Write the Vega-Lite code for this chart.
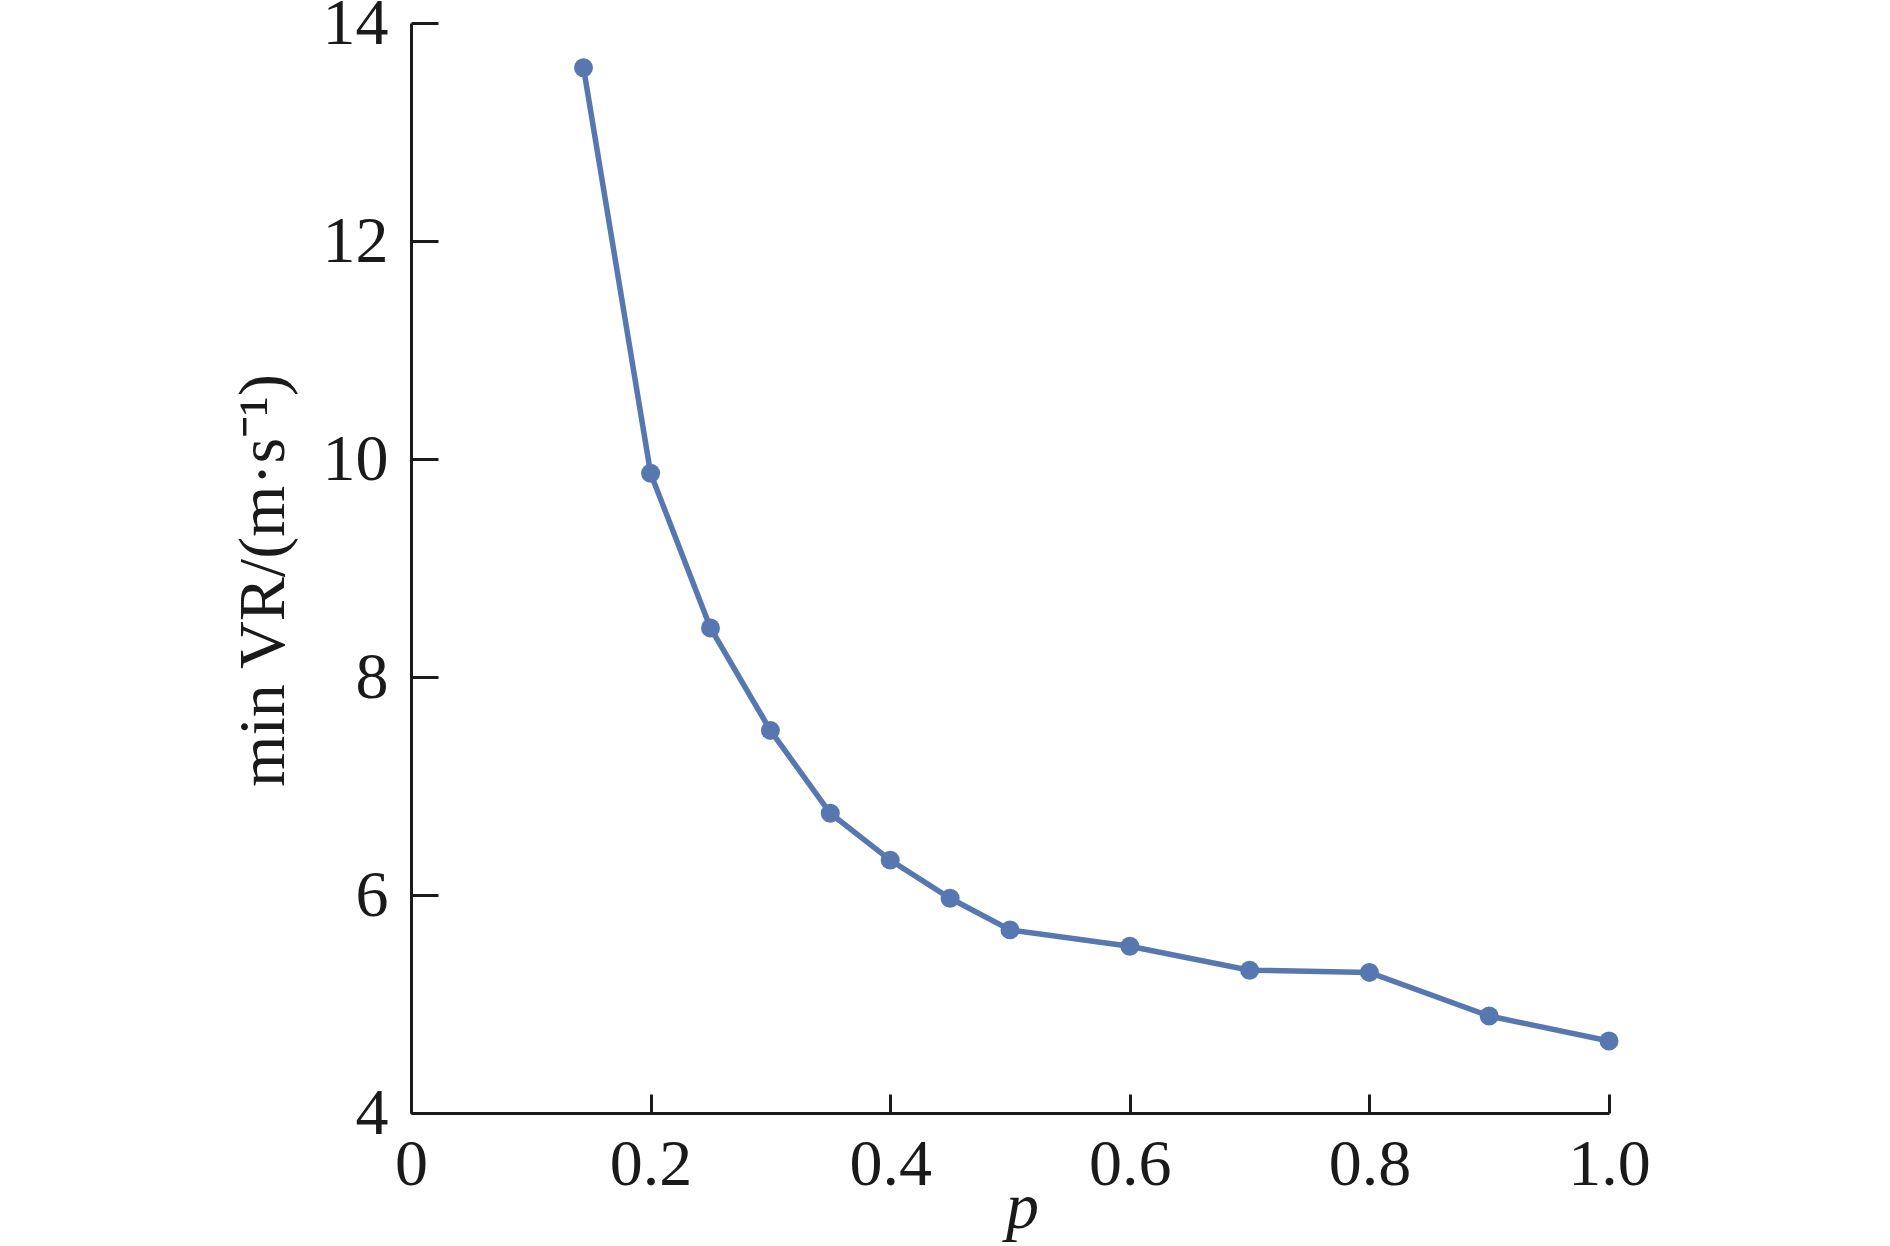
{
  "$schema": "https://vega.github.io/schema/vega-lite/v6.json",
  "autosize": {"type": "none"},
  "width": 1198,
  "height": 1090,
  "padding": {"left": 411, "top": 23, "right": 281, "bottom": 133},
  "background": "white",
  "config": {
    "view": {"stroke": null},
    "font": "Times New Roman, Liberation Serif, serif"
  },
  "data": {
    "values": [
      {"p": 0.144, "v": 13.59},
      {"p": 0.2, "v": 9.87},
      {"p": 0.25, "v": 8.45},
      {"p": 0.3, "v": 7.51},
      {"p": 0.35, "v": 6.75},
      {"p": 0.4, "v": 6.32},
      {"p": 0.45, "v": 5.97},
      {"p": 0.5, "v": 5.68},
      {"p": 0.6, "v": 5.53},
      {"p": 0.7, "v": 5.31},
      {"p": 0.8, "v": 5.29},
      {"p": 0.9, "v": 4.89},
      {"p": 1.0, "v": 4.66}
    ]
  },
  "encoding": {
    "x": {
      "field": "p",
      "type": "quantitative",
      "scale": {"domain": [0, 1], "nice": false, "zero": false},
      "axis": {
        "values": [0, 0.2, 0.4, 0.6, 0.8, 1.0],
        "labelExpr": "datum.value == 0 ? '0' : format(datum.value, '.1f')",
        "grid": false,
        "domainColor": "#1a1a1a",
        "domainWidth": 3,
        "tickColor": "#1a1a1a",
        "tickWidth": 3,
        "tickSize": -19,
        "labelPadding": 38,
        "labelFont": "Times New Roman, Liberation Serif, serif",
        "labelFontSize": 66,
        "labelColor": "#1a1a1a",
        "labelFlush": false,
        "labelOverlap": false,
        "title": "p",
        "titleFont": "Times New Roman, Liberation Serif, serif",
        "titleFontStyle": "italic",
        "titleFontWeight": "normal",
        "titleFontSize": 66,
        "titleColor": "#1a1a1a",
        "titleX": 611,
        "titleY": 114,
        "titleBaseline": "alphabetic",
        "titleAlign": "center"
      }
    },
    "y": {
      "field": "v",
      "type": "quantitative",
      "scale": {"domain": [4, 14], "nice": false, "zero": false},
      "axis": {
        "values": [4, 6, 8, 10, 12, 14],
        "grid": false,
        "domainColor": "#1a1a1a",
        "domainWidth": 3,
        "tickColor": "#1a1a1a",
        "tickWidth": 3,
        "tickSize": -27,
        "labelPadding": 50,
        "labelFont": "Times New Roman, Liberation Serif, serif",
        "labelFontSize": 66,
        "labelColor": "#1a1a1a",
        "labelFlush": false,
        "labelOverlap": false,
        "title": "min VR/(m·s⁻¹)",
        "titleFont": "Times New Roman, Liberation Serif, serif",
        "titleFontWeight": "normal",
        "titleFontSize": 66,
        "titleColor": "#1a1a1a",
        "titleAngle": -90,
        "titleX": -128,
        "titleY": 557,
        "titleBaseline": "alphabetic",
        "titleAlign": "center"
      }
    }
  },
  "layer": [
    {
      "mark": {"type": "line", "color": "#5777b0", "strokeWidth": 5.5}
    },
    {
      "mark": {"type": "point", "filled": true, "shape": "circle", "color": "#5777b0", "opacity": 1, "size": 360}
    }
  ]
}
